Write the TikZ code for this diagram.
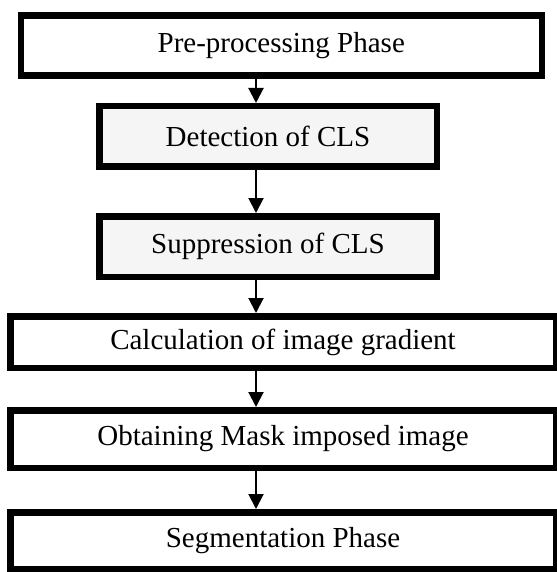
\documentclass[tikz,border=0pt]{standalone}
\usepackage{fontspec}
\setmainfont{Liberation Serif}
\usetikzlibrary{arrows.meta}
\begin{document}
\begin{tikzpicture}[x=1pt,y=-1pt,
  stage/.style={draw=black, line width=6.5pt, fill=white, inner sep=0pt,
    font=\fontsize{29}{33}\selectfont, text=black},
  shaded/.style={stage, fill=black!4},
  flow/.style={line width=2pt, -{Triangle[width=15pt,length=15pt]}}]
\useasboundingbox (0,0) rectangle (556,572);
% processing stages, top to bottom
\node[stage, minimum width=521pt, minimum height=60pt] (pre) at (281.25,45.75) {Pre-processing Phase};
\node[shaded, minimum width=337.5pt, minimum height=60.5pt] (det) at (268,136.5) {Detection of CLS};
\node[shaded, minimum width=337.5pt, minimum height=60.5pt] (sup) at (268,246.5) {Suppression of CLS};
\node[stage, minimum width=545.5pt, minimum height=51.5pt] (grad) at (283,342) {Calculation of image gradient};
\node[stage, minimum width=545.5pt, minimum height=57.5pt] (mask) at (283,439) {Obtaining Mask imposed image};
\node[stage, minimum width=545.5pt, minimum height=56.5pt] (seg) at (283,540.5) {Segmentation Phase};
% connectors run down a common vertical line
\coordinate (ax) at (256,0);
\draw[flow] (pre.south -| ax) -- (det.north -| ax);
\draw[flow] (det.south -| ax) -- (sup.north -| ax);
\draw[flow] (sup.south -| ax) -- (grad.north -| ax);
\draw[flow] (grad.south -| ax) -- (mask.north -| ax);
\draw[flow] (mask.south -| ax) -- (seg.north -| ax);
\end{tikzpicture}
\end{document}
